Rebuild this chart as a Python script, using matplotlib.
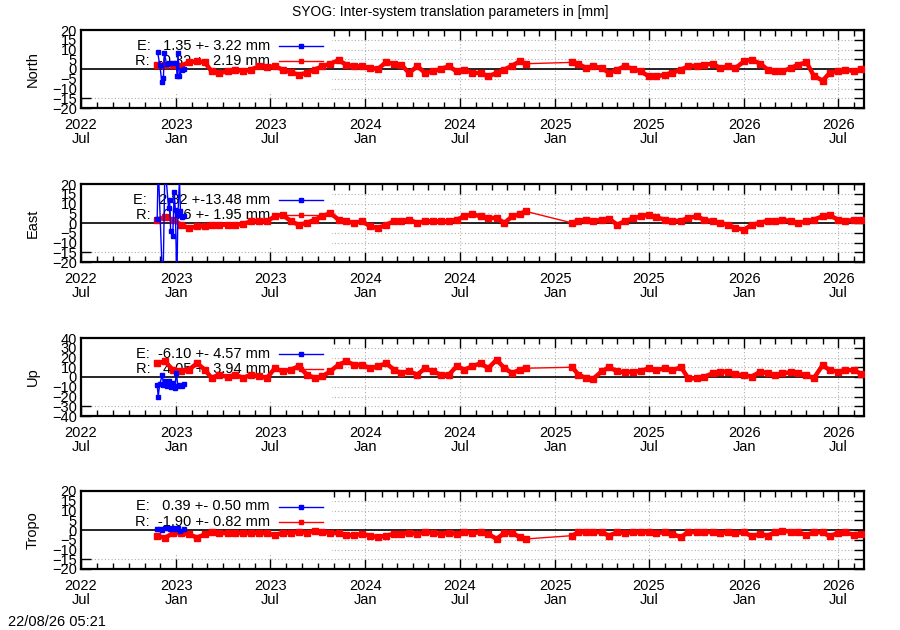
import numpy as np
import matplotlib
matplotlib.use("Agg")
import matplotlib.pyplot as plt
import matplotlib.dates as mdates

plt.rcParams['font.family'] = ['Liberation Sans', 'DejaVu Sans']

TITLE = "SYOG: Inter-system translation parameters in [mm]"
STAMP = "22/08/26 05:21"
PANELS = ["North", "East", "Up", "Tropo"]
YLIMS = [(-20, 20), (-20, 20), (-40, 40), (-20, 20)]
YSTEPS = [5, 5, 10, 5]
LEG_E = ["E:   1.35 +- 3.22 mm", "E:   2.82 +-13.48 mm", "E:  -6.10 +- 4.57 mm", "E:   0.39 +- 0.50 mm"]
LEG_R = ["R:  -0.32 +- 2.19 mm", "R:   0.76 +- 1.95 mm", "R:   4.05 +- 3.94 mm", "R:  -1.90 +- 0.82 mm"]

# ---- R series (red): two segments separated by a data gap ----
r_dates_a = ["2022-11-25", "2022-12-10", "2022-12-25",
             "2023-01-10", "2023-01-25", "2023-02-10", "2023-02-25", "2023-03-10", "2023-03-25",
             "2023-04-10", "2023-04-25", "2023-05-10", "2023-05-25", "2023-06-10", "2023-06-25",
             "2023-07-10", "2023-07-25", "2023-08-10", "2023-08-25", "2023-09-10", "2023-09-25",
             "2023-10-10", "2023-10-25", "2023-11-10", "2023-11-25", "2023-12-10", "2023-12-25",
             "2024-01-10", "2024-01-25", "2024-02-10", "2024-02-25", "2024-03-10", "2024-03-25",
             "2024-04-10", "2024-04-25", "2024-05-10", "2024-05-25", "2024-06-10", "2024-06-25",
             "2024-07-10", "2024-07-25", "2024-08-10", "2024-08-25", "2024-09-10", "2024-09-25",
             "2024-10-10", "2024-10-25", "2024-11-05"]
r_dates_b = ["2025-02-03", "2025-02-15", "2025-03-01", "2025-03-15", "2025-04-01", "2025-04-15",
             "2025-05-01", "2025-05-15", "2025-06-01", "2025-06-15", "2025-07-01", "2025-07-15",
             "2025-08-01", "2025-08-15", "2025-09-01", "2025-09-15", "2025-10-01", "2025-10-15",
             "2025-11-01", "2025-11-15", "2025-12-01", "2025-12-15",
             "2026-01-01", "2026-01-15", "2026-02-01", "2026-02-15", "2026-03-01", "2026-03-15",
             "2026-04-01", "2026-04-15", "2026-05-01", "2026-05-15", "2026-06-01", "2026-06-15",
             "2026-07-01", "2026-07-15", "2026-08-01", "2026-08-15"]

north_r_a = [2.2, 2.0, 2.0, 1.7, 3.4, 4.0, 3.4, -1.2, -2.0, -1.2, -0.3, -1.2, -0.3, 1.4, 1.0,
             1.4, -0.3, -1.7, -2.9, -2.0, -0.3, 1.4, 2.7, 4.5, 2.2, 1.4, 1.4,
             0.5, 0.0, 3.6, 2.6, 2.2, -2.0, 1.4, -2.0, -1.2, 0.0, 1.4, -1.2,
             -0.3, -2.0, -2.0, -3.8, -2.0, -0.3, 1.7, 4.0, 2.7]
north_r_b = [3.4, 2.7, 0.5, 1.4, 0.5, -2.0, -0.3, 1.4, 0.0, -1.2, -3.8, -3.8,
             -2.9, -2.0, -0.3, 1.4, 1.7, 2.2, 2.7, 0.5, 1.4, 0.5,
             4.0, 4.8, 2.7, -0.3, -1.2, -1.2, 0.5, 2.2, 3.4, -3.4, -6.0, -2.0,
             -1.2, -0.3, -1.2, 0.0]

east_r_a = [1.7, 2.9, 1.7, -0.9, -2.6, -1.7, -1.7, -0.9, -0.9, -0.9, -0.9, -0.5, 0.9, 0.9, 0.9,
            3.4, 4.3, 0.9, -0.9, 0.0, 1.7, 3.4, 5.1, 1.7, 0.9, 0.0, 0.9,
            -1.7, -2.6, -0.9, 0.9, 0.9, 1.7, 0.0, 0.9, 0.9, 0.9, 0.9, 1.7,
            3.4, 4.6, 3.4, 2.6, 2.6, 0.0, 3.4, 4.6, 6.0]
east_r_b = [0.0, 1.2, 1.7, 0.9, 1.7, 2.2, -0.9, 0.9, 2.4, 3.4, 4.3, 2.9,
            1.7, 0.9, 1.2, 2.6, 3.4, 1.7, 0.9, 0.0, -0.9, -2.6,
            -3.4, -0.9, 0.0, 1.2, 0.9, 1.7, 0.9, 0.0, 0.9, 1.7, 3.4, 3.9,
            1.7, 0.9, 1.7, 1.7]

up_r_a = [14.0, 16.0, 7.5, 6.5, 7.5, 14.0, 7.5, -1.0, 2.4, 0.0, 2.4, -1.0, 2.4, 0.7, -1.0,
          9.0, 5.8, 7.5, 11.0, 2.4, -1.0, 0.7, 5.8, 12.6, 16.0, 12.6, 12.6,
          9.0, 11.0, 14.0, 7.5, 4.0, 5.8, 2.4, 9.0, 5.8, 2.4, 2.4, 11.0,
          7.5, 11.0, 14.0, 9.0, 17.8, 9.0, 4.0, 7.5, 9.0]
up_r_b = [10.0, 2.4, -1.0, -2.0, 5.8, 10.0, 5.8, 5.0, 5.5, 6.0, 9.0, 7.0,
          9.0, 7.0, 10.0, -1.4, -1.4, 0.0, 3.8, 5.5, 5.5, 2.7,
          2.0, 0.3, 5.5, 3.8, 2.0, 3.8, 4.8, 3.8, 2.0, -1.4, 12.0, 7.0,
          5.5, 7.0, 7.0, 3.0]

tropo_r_a = [-3.0, -4.0, -1.7, -1.4, -2.2, -3.9, -2.2, -1.0, -1.4, -1.7, -1.7, -1.4, -1.7, -1.4, -1.7,
             -2.7, -1.4, -1.4, -1.0, -1.4, -0.5, -1.0, -1.4, -1.7, -2.7, -2.7, -2.0,
             -2.9, -3.7, -2.9, -2.0, -2.0, -1.5, -2.0, -1.2, -1.5, -2.0, -1.5, -2.0,
             -0.9, -1.5, -1.2, -2.0, -4.6, -1.5, -1.5, -3.7, -4.6]
tropo_r_b = [-2.9, -1.2, -0.9, -0.9, -1.2, -2.9, -1.2, -1.5, -1.2, -1.2, -1.2, -1.5,
             -1.2, -2.0, -3.7, -0.9, -1.2, -0.9, -1.2, -1.5, -1.2, -1.5,
             -1.2, -3.2, -2.0, -2.9, -1.2, -0.3, -0.9, -1.2, -2.6, -1.2, -1.2, -3.2,
             -1.5, -1.2, -2.6, -2.0]

# ---- E series (blue): short early segment ----
north_e_dates = ["2022-11-26", "2022-11-30", "2022-12-04", "2022-12-07", "2022-12-09", "2022-12-13",
                 "2022-12-18", "2022-12-25", "2023-01-01", "2023-01-03", "2023-01-04", "2023-01-07",
                 "2023-01-11", "2023-01-15"]
north_e = [8.5, 2.0, -6.5, -4.5, 8.2, 2.5, 3.0, 3.0, 3.2, -3.8, 8.2, -3.8, -0.5, 0.0]

east_e_dates = ["2022-11-25", "2022-11-27", "2022-12-06", "2022-12-10", "2022-12-17", "2022-12-19",
                "2022-12-21", "2022-12-25", "2022-12-28", "2022-12-30", "2023-01-02", "2023-01-04",
                "2023-01-07", "2023-01-09", "2023-01-12", "2023-01-15"]
east_e = [2.0, 30.0, -35.0, 30.0, 7.7, 12.0, -4.3, -6.8, 16.0, 6.8, -30.0, 4.3, 22.0, 6.0, 2.9, 3.4]

up_e_dates = ["2022-11-25", "2022-11-27", "2022-11-30", "2022-12-05", "2022-12-07", "2022-12-10",
              "2022-12-13", "2022-12-18", "2022-12-22", "2022-12-25", "2022-12-29", "2023-01-01",
              "2023-01-04", "2023-01-07", "2023-01-11", "2023-01-15"]
up_e = [-8.0, -20.0, -7.0, 2.0, -8.0, -4.0, -9.0, -4.5, -10.0, -6.0, -11.0, 4.0, -9.5, -8.0, -9.0, -7.5]

tropo_e_dates = ["2022-11-25", "2022-11-30", "2022-12-05", "2022-12-10", "2022-12-15", "2022-12-20",
                 "2022-12-25", "2022-12-30", "2023-01-04", "2023-01-09", "2023-01-15"]
tropo_e = [0.3, 0.5, -0.2, 0.8, 1.2, 0.5, 1.0, 0.3, 0.8, -0.3, 0.5]

R_A = [north_r_a, east_r_a, up_r_a, tropo_r_a]
R_B = [north_r_b, east_r_b, up_r_b, tropo_r_b]
E_D = [north_e_dates, east_e_dates, up_e_dates, tropo_e_dates]
E_V = [north_e, east_e, up_e, tropo_e]

XMIN, XMAX = "2022-07-01", "2026-08-20"

def d64(lst):
    return np.array(lst, dtype="datetime64[D]")

W, H = 900, 630
fig = plt.figure(figsize=(W / 100, H / 100), dpi=100)
fig.patch.set_facecolor("white")

tops = [30, 184, 338, 491]
left_px, right_px, h_px = 81, 864, 78
FS = 10.5
RED = "#ff0000"
BLUE = "#0000ff"

for i, name in enumerate(PANELS):
    ax = fig.add_axes([left_px / W, 1 - (tops[i] + h_px) / H, (right_px - left_px) / W, h_px / H])
    ax.set_axisbelow(True)
    lo, hi = YLIMS[i]
    ax.set_ylim(lo, hi)
    ax.set_yticks(np.arange(lo, hi + 0.1, YSTEPS[i]))
    ax.set_xlim(d64([XMIN])[0], d64([XMAX])[0])
    ax.xaxis.set_major_locator(mdates.MonthLocator(bymonth=[1, 7]))
    ax.xaxis.set_minor_locator(mdates.MonthLocator())
    ax.xaxis.set_major_formatter(mdates.DateFormatter("%Y\n%b"))
    ax.grid(True, which="major", linestyle=(0, (1, 2)), color="#b0b0b0", lw=0.8)
    ax.tick_params(which="major", direction="in", top=True, right=True, length=7, width=1,
                   labelsize=FS, pad=3)
    ax.tick_params(which="minor", direction="in", top=True, right=False, length=4, width=1)
    ax.tick_params(axis="x", which="major", pad=7)
    for lab in ax.get_xticklabels():
        lab.set_linespacing(1.05)
    for s in ax.spines.values():
        s.set_linewidth(1.6)
    ax.set_ylabel(name, fontsize=FS)
    ax.yaxis.set_label_coords((40 - left_px) / (right_px - left_px), 0.5)

    # opaque key box
    box_bottom = (-12.5 * (hi / 20) - lo) / (hi - lo)
    ax.add_patch(plt.Rectangle((0, box_bottom), (332 - left_px) / (right_px - left_px), 1 - box_bottom,
                               transform=ax.transAxes, facecolor="white", edgecolor="none", zorder=1))
    ax.axhline(0, color="black", lw=1.2, zorder=1.2)

    # key entries
    tx = (270 - left_px) / (right_px - left_px)
    lx0 = (279 - left_px) / (right_px - left_px)
    lx1 = (323 - left_px) / (right_px - left_px)
    for row, (txt, col) in enumerate([(LEG_E[i], BLUE), (LEG_R[i], RED)]):
        ty = 1 - (15.5 + 15.5 * row) / h_px
        ax.text(tx, ty, txt, transform=ax.transAxes, ha="right", va="center", fontsize=FS, zorder=1.3)
        ax.plot([lx0, lx1], [ty, ty], color=col, lw=1, transform=ax.transAxes, zorder=1.3)
        ax.plot([(lx0 + lx1) / 2], [ty], color=col, marker="s", ms=2.5, transform=ax.transAxes, zorder=1.3)

    # R data
    da, db = d64(r_dates_a), d64(r_dates_b)
    ax.plot(da, R_A[i], color=RED, lw=3.2, marker="s", ms=4, zorder=3)
    ax.plot(db, R_B[i], color=RED, lw=3.2, marker="s", ms=4, zorder=3)
    ax.plot([da[-1], db[0]], [R_A[i][-1], R_B[i][0]], color=RED, lw=1, zorder=3)
    # E data
    ax.plot(d64(E_D[i]), E_V[i], color=BLUE, lw=1, marker="s", ms=2.5, zorder=4)

fig.text(0.5, 1 - 12 / H, TITLE, ha="center", va="center", fontsize=10)
fig.text(8 / W, 1 - 622 / H, STAMP, ha="left", va="center", fontsize=FS)

fig.savefig("out.png", dpi=100)
